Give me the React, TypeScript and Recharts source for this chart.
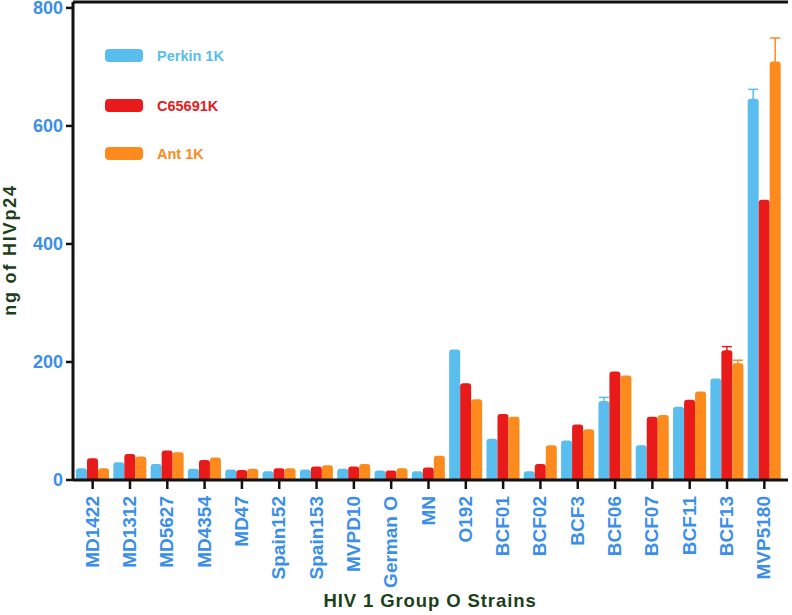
import React from 'react';
import { BarChart, Bar, XAxis, YAxis, ErrorBar, Legend, Label, ReferenceLine } from 'recharts';

const categories = ['MD1422','MD1312','MD5627','MD4354','MD47','Spain152','Spain153','MVPD10','German O','MN','O192','BCF01','BCF02','BCF3','BCF06','BCF07','BCF11','BCF13','MVP5180'];
const perkin1K = [20,30,27,19,18,15,18,19,16,15,221,70,15,67,134,59,124,172,646];
const c65691K = [37,44,50,34,17,20,23,23,16,21,164,112,27,94,184,107,136,220,475];
const ant1K = [20,40,47,38,19,20,25,27,20,41,137,107,59,86,177,110,150,198,709];
const perkinErr = [0,0,0,0,0,0,0,0,0,0,0,0,0,0,6,0,0,0,16];
const c65691Err = [0,0,0,0,0,0,0,0,0,0,0,0,0,0,0,0,0,6,0];
const antErr = [0,0,0,0,0,0,0,0,0,0,0,0,0,0,0,0,0,5,40];
const yTicks = [0, 200, 400, 600, 800];
const yMax = 810;

const seriesNames = ['Perkin 1K', 'C65691K', 'Ant 1K'];
const colors = ['#59bdee', '#e81a1a', '#fd8a1c'];

const data = categories.map((c, i) => ({
  name: c,
  perkin: perkin1K[i],
  c656: c65691K[i],
  ant: ant1K[i],
  perkinErr: perkinErr[i],
  c656Err: c65691Err[i],
  antErr: antErr[i],
}));

const FONT = '"Liberation Sans", Arial, sans-serif';
const TICK_BLUE = '#3b8fe8';
const GREEN = '#1c3f1c';

const XTick = (props: any) => {
  const { x, y, payload } = props;
  return (
    <text
      x={0}
      y={0}
      transform={`translate(${x + 6},${y + 5}) rotate(-90)`}
      textAnchor="end"
      fill={TICK_BLUE}
      fontSize={19}
      fontWeight="bold"
      fontFamily={FONT}
    >
      {payload.value}
    </text>
  );
};

const LegendContent = () => (
  <svg width={140} height={120} style={{ display: 'block' }}>
    {seriesNames.map((n, i) => {
      const cy = [6.5, 56.5, 104.5][i];
      return (
        <g key={n}>
          <rect x={0} y={cy - 6.5} width={38} height={13} rx={4} fill={colors[i]} />
          <text x={52} y={cy + 5} fill={colors[i]} fontSize={14.5} fontWeight="bold" fontFamily={FONT}>
            {n}
          </text>
        </g>
      );
    })}
  </svg>
);

export default function App() {
  return (
    <div style={{ position: 'absolute', left: 0, top: 0, background: '#fff' }}>
      <BarChart
        width={792}
        height={615}
        data={data}
        margin={{ top: 2, right: 4, left: 0, bottom: 0 }}
        barCategoryGap={2}
        barGap={0}
      >
        <XAxis
          dataKey="name"
          interval={0}
          height={135}
          padding={{ left: 1, right: 5 }}
          axisLine={{ stroke: '#111', strokeWidth: 3 }}
          tickLine={{ stroke: '#111', strokeWidth: 2.5 }}
          tickSize={9}
          tick={<XTick />}
        >
          <Label
            content={() => (
              <text
                x={430}
                y={607}
                textAnchor="middle"
                fill={GREEN}
                fontSize={18.5}
                letterSpacing={0.9}
                fontWeight="bold"
                fontFamily={FONT}
              >
                HIV 1 Group O Strains
              </text>
            )}
          />
        </XAxis>
        <YAxis
          width={73}
          domain={[0, yMax]}
          ticks={yTicks}
          interval={0}
          axisLine={{ stroke: '#111', strokeWidth: 3 }}
          tickLine={{ stroke: '#111', strokeWidth: 2.5 }}
          tickSize={7}
          tickMargin={3}
          tick={{ fill: TICK_BLUE, fontSize: 18, fontWeight: 'bold', fontFamily: FONT }}
        >
          <Label
            content={() => (
              <text
                x={0}
                y={0}
                transform="translate(16,250) rotate(-90)"
                textAnchor="middle"
                fill={GREEN}
                fontSize={18}
                letterSpacing={1.8}
                fontWeight="bold"
                fontFamily={FONT}
              >
                ng of HIVp24
              </text>
            )}
          />
        </YAxis>
        <YAxis
          yAxisId="right"
          orientation="right"
          width={0}
          domain={[0, yMax]}
          tick={false}
          tickLine={false}
          axisLine={{ stroke: '#111', strokeWidth: 3 }}
        />
        <ReferenceLine y={yMax} stroke="#111" strokeWidth={3} ifOverflow="visible" />
        <Legend
          layout="vertical"
          align="center"
          verticalAlign="middle"
          content={<LegendContent />}
          wrapperStyle={{ position: 'absolute', left: 105, top: 49, width: 140, height: 120 }}
        />
        <Bar dataKey="perkin" name="Perkin 1K" fill={colors[0]} radius={[3, 3, 0, 0]} isAnimationActive={false}>
          <ErrorBar dataKey="perkinErr" width={5} stroke={colors[0]} strokeWidth={1.5} direction="y" />
        </Bar>
        <Bar dataKey="c656" name="C65691K" fill={colors[1]} radius={[3, 3, 0, 0]} isAnimationActive={false}>
          <ErrorBar dataKey="c656Err" width={5} stroke={colors[1]} strokeWidth={1.5} direction="y" />
        </Bar>
        <Bar dataKey="ant" name="Ant 1K" fill={colors[2]} radius={[3, 3, 0, 0]} isAnimationActive={false}>
          <ErrorBar dataKey="antErr" width={5} stroke={colors[2]} strokeWidth={1.5} direction="y" />
        </Bar>
      </BarChart>
    </div>
  );
}
